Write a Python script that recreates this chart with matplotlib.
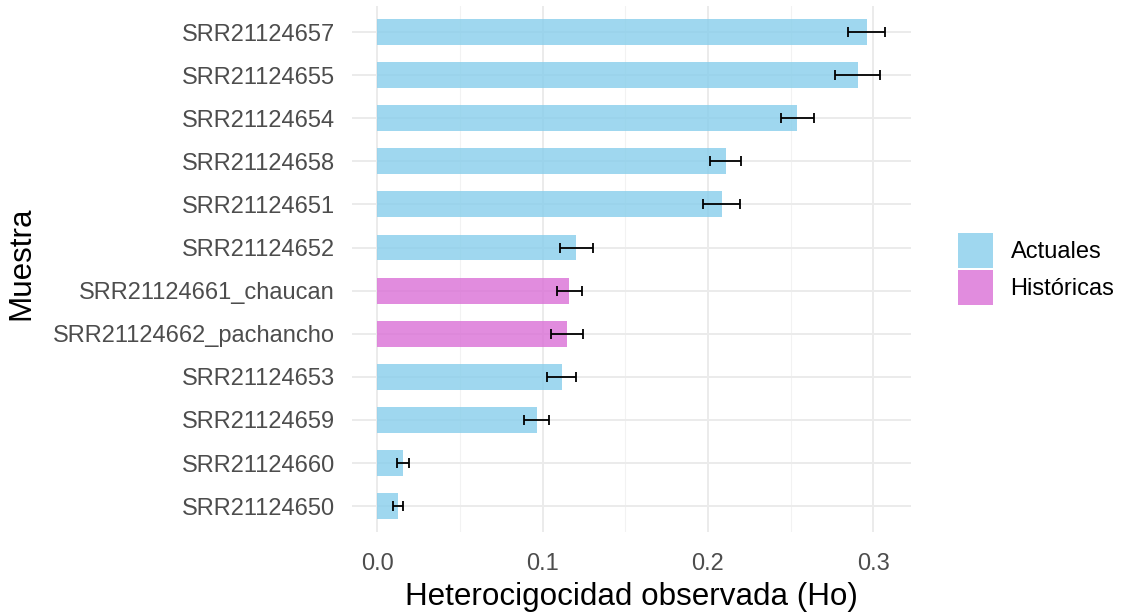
import matplotlib
matplotlib.use("Agg")
import matplotlib.pyplot as plt
from matplotlib.patches import Patch
from matplotlib.ticker import MultipleLocator, FormatStrFormatter

plt.rcParams['font.family'] = ['Liberation Sans', 'DejaVu Sans']

# Samples ordered bottom to top
samples = ["SRR21124650", "SRR21124660", "SRR21124659", "SRR21124653",
           "SRR21124662_pachancho", "SRR21124661_chaucan", "SRR21124652",
           "SRR21124651", "SRR21124658", "SRR21124654", "SRR21124655",
           "SRR21124657"]
ho = [0.0127, 0.0158, 0.0965, 0.1115, 0.1147, 0.1162, 0.1205,
      0.2082, 0.2107, 0.2540, 0.2905, 0.2958]
ho_err = [0.0030, 0.0035, 0.0077, 0.0090, 0.0095, 0.0075, 0.0100,
          0.0110, 0.0095, 0.0100, 0.0135, 0.0113]
group = ["Actuales", "Actuales", "Actuales", "Actuales", "Históricas",
         "Históricas", "Actuales", "Actuales", "Actuales", "Actuales",
         "Actuales", "Actuales"]

palette = {"Actuales": "#87CEEB", "Históricas": "#DA70D6"}

fig = plt.figure(figsize=(11.25, 6.15), dpi=100)
ax = fig.add_axes([0.3125, 0.135, 0.497, 0.855])

ypos = list(range(len(samples)))
ax.barh(ypos, ho, height=0.6, color=[palette[g] for g in group],
        alpha=0.8, zorder=2)
ax.errorbar(ho, ypos, xerr=ho_err, fmt="none", ecolor="black",
            elinewidth=1.3, capsize=3.8, capthick=1.3, zorder=3)

ax.set_xlim(-0.0154, 0.3225)
ax.set_ylim(-0.6, len(samples) - 0.4)
ax.set_yticks(ypos)
ax.set_yticklabels(samples)
ax.xaxis.set_major_locator(MultipleLocator(0.1))
ax.xaxis.set_minor_locator(MultipleLocator(0.05))
ax.xaxis.set_major_formatter(FormatStrFormatter("%.1f"))

ax.grid(True, which="major", axis="both", color="#EBEBEB", linewidth=1.4, zorder=0)
ax.grid(True, which="minor", axis="x", color="#F2F2F2", linewidth=0.8, zorder=0)
ax.set_axisbelow(True)
for s in ax.spines.values():
    s.set_visible(False)
ax.tick_params(axis="both", which="both", length=0, labelsize=17,
               labelcolor="#4D4D4D")
ax.tick_params(axis="y", pad=12)
ax.tick_params(axis="x", pad=15)

ax.set_xlabel("Heterocigocidad observada (Ho)", fontsize=22.6, labelpad=5.5)
ax.set_ylabel("Muestra", fontsize=22.6, labelpad=12)
ax.yaxis.label.set_y(0.511)

handles = [Patch(facecolor=palette[k], alpha=0.8, edgecolor="none", label=k)
           for k in ["Actuales", "Históricas"]]
fig.legend(handles=handles, loc="center left", bbox_to_anchor=(0.8432, 0.5626),
           frameon=False, fontsize=17, handlelength=1.5, handleheight=1.9,
           handletextpad=0.72, labelspacing=0.08, borderaxespad=0)

fig.savefig("out.png", dpi=100)
